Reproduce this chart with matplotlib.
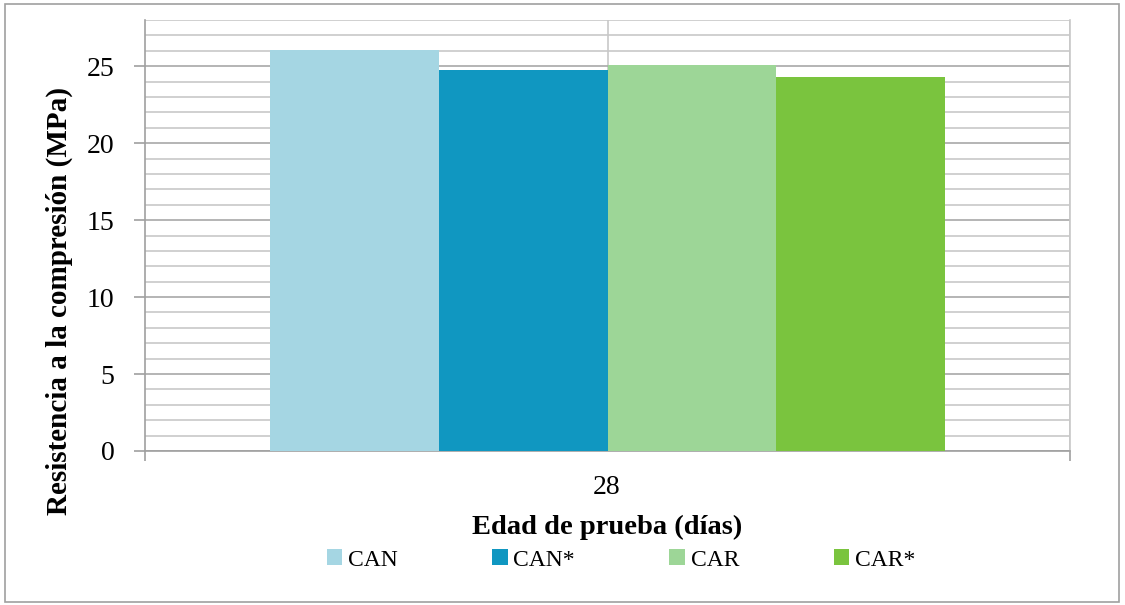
import numpy as np
import matplotlib
matplotlib.use('Agg')
from matplotlib import pyplot as plt
from matplotlib.patches import Patch, Rectangle

SERIES = ['CAN', 'CAN*', 'CAR', 'CAR*']
VALUES = [26.05, 24.75, 25.05, 24.3]
COLORS = ['#a5d6e3', '#1097c1', '#9dd697', '#7ac43e']
CATEGORY = '28'

plt.rcParams['font.family'] = ['Liberation Serif', 'DejaVu Serif']

fig = plt.figure(figsize=(11.25, 6.05), dpi=100)
ax = fig.add_axes([145 / 1125, 1 - 451 / 605, 925 / 1125, 431 / 605])

# outer frame of the chart
fig.patches.append(Rectangle((5 / 1125, 3 / 605), 1114 / 1125, 598 / 605,
                             transform=fig.transFigure, fill=False,
                             edgecolor='#a0a0a0', linewidth=1.2))

group_width = 0.729
bar_w = group_width / len(SERIES)
offsets = (np.arange(len(SERIES)) - (len(SERIES) - 1) / 2) * bar_w
for off, val, col, name in zip(offsets, VALUES, COLORS, SERIES):
    ax.bar(off, val, width=bar_w, color=col, label=name, zorder=3)

ax.set_xlim(-0.5, 0.5)
ax.set_ylim(0, 28)

# grid
ax.set_yticks(np.arange(0, 26, 5))
ax.set_yticks(np.arange(0, 29, 1), minor=True)
ax.yaxis.grid(True, which='minor', color='#c8c8c8', linewidth=1.2, zorder=0)
ax.yaxis.grid(True, which='major', color='#a8a8a8', linewidth=1.2, zorder=0)
for xv in [0.0, 0.5]:
    ax.axvline(xv, color='#c8c8c8', linewidth=1.2, zorder=0)

ax.set_xticks([-0.5, 0.5])
ax.set_xticklabels(['', ''])
ax.tick_params(axis='x', which='major', length=7, color='#a0a0a0', width=1.2)
fig.text(607 / 1125, 1 - 487 / 605, CATEGORY, ha='center', va='center', fontsize=20)
ax.tick_params(axis='y', which='major', length=8, color='#a0a0a0', width=1.2,
               labelsize=20, pad=14)
ax.tick_params(axis='y', which='minor', length=0)

ax.spines['top'].set_visible(False)
ax.spines['right'].set_color('#c8c8c8')
ax.spines['left'].set_color('#a0a0a0')
ax.spines['bottom'].set_color('#a0a0a0')
for s in ax.spines.values():
    s.set_linewidth(1.2)

fig.text(59 / 1125, 1 - 301 / 605, 'Resistencia a la compresión (MPa)',
         rotation=90, ha='center', va='center', fontsize=21, fontweight='bold')
fig.text(607 / 1125, 1 - 527 / 605, 'Edad de prueba (días)',
         ha='center', va='center', fontsize=20.5, fontweight='bold')

handles = [Patch(facecolor=c, edgecolor='none') for c in COLORS]
fig.legend(handles, SERIES, loc='center', bbox_to_anchor=(621 / 1125, 1 - 560 / 605),
           ncol=4, frameon=False, fontsize=17, handlelength=0.65, handleheight=0.65,
           handletextpad=0.25, columnspacing=4.0, borderpad=0)

fig.savefig('out.png', dpi=100)
